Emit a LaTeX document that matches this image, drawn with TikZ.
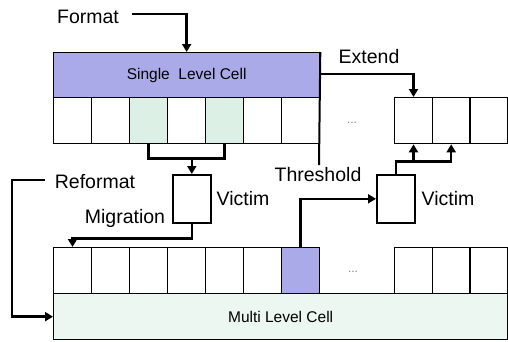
\documentclass[tikz,border=0pt]{standalone}
\usepackage{fontspec}
\setmainfont{Liberation Sans}
\usepackage{tikz}
\usetikzlibrary{arrows.meta}

\definecolor{slcpurple}{RGB}{170,170,232}
\definecolor{slcgreen}{RGB}{221,240,230}
\definecolor{mlcgreen}{RGB}{237,247,241}

\tikzset{
  cell/.style={draw,line width=1.3pt,minimum width=37.7pt,minimum height=46pt,inner sep=0pt,anchor=north west},
  vbox/.style={draw,line width=1.6pt,fill=white,minimum width=38pt,minimum height=48pt,inner sep=0pt,anchor=north west},
  lbl/.style={font=\fontsize{19.5}{22}\selectfont,inner sep=0pt},
  small/.style={font=\fontsize{15.5}{18}\selectfont},
  link/.style={line width=2.4pt},
  flow/.style={line width=2.4pt,-{Triangle[length=8pt,width=9pt]}},
}

\begin{document}
\begin{tikzpicture}[x=1pt,y=-1pt]
\useasboundingbox (0,0) rectangle (508,341);

\node[draw,line width=1.3pt,fill=slcpurple,minimum width=266pt,minimum height=45pt,inner sep=0pt,anchor=north west,small] (slc) at (53,52) {Single\ \ Level Cell};
\foreach \i/\c in {1/white,2/white,3/slcgreen,4/white,5/slcgreen,6/white,7/white}{
    \node[cell,fill=\c] (s\i) at ({53+38*(\i-1)},97) {};
}
\foreach \i in {1,2,3}{
    \node[cell] (r\i) at ({394+37.7*(\i-1)},97) {};
}
\node[inner sep=0pt,font=\fontsize{12}{12}\selectfont,text=gray] (dots1) at (352,123) {...};

\node[draw,line width=1.3pt,fill=mlcgreen,minimum width=454pt,minimum height=46pt,inner sep=0pt,anchor=north west,small] (mlc) at (53,293) {Multi Level Cell};
\foreach \i/\c in {1/white,2/white,3/white,4/white,5/white,6/white,7/slcpurple}{
    \node[cell,fill=\c] (m\i) at ({53+38*(\i-1)},247) {};
}
\foreach \i in {1,2,3}{
    \node[cell] (n\i) at ({394+37.7*(\i-1)},247) {};
}
\node[inner sep=0pt,font=\fontsize{12}{12}\selectfont,text=gray] (dots2) at (353,272) {...};

\node[vbox] (v1) at (172,174) {};
\node[vbox] (v2) at (376,174) {};

\node[lbl] (fmt) at (88,17) {Format};
\node[lbl] (ext) at (369,57) {Extend};
\node[lbl] (thr) at (318,175) {Threshold};
\node[lbl] (vic1) at (243,199) {Victim};
\node[lbl] (vic2) at (448,199) {Victim};
\node[lbl] (ref) at (95,182) {Reformat};
\node[lbl] (mig) at (125,218) {Migration};
\coordinate (thrend) at (319,165);

\draw[flow] ([xshift=13pt,yshift=3pt]fmt.east) -| (slc.north);
\draw[line width=2pt] (slc.north east) -- (thrend);
\draw[flow] ([yshift=-22pt]slc.north east) -| (r1.north);

\draw[link] (s3.south) -- ++(0,14) -| (s5.south);
\draw[flow] ([yshift=-14pt]s3.south -| v1.north) -- (v1.north);
\draw[flow] (v1.south) -- ++(0,15) -| (m1.north);

\draw[flow] ([xshift=-10pt,yshift=2pt]ref.west) -- ++(-33,0) |- (mlc.west);

\draw[flow] (m7.north) |- (v2.west);
\draw[flow] (v2.north) |- ([yshift=-17pt]r1.south) -- (r1.south);
\draw[flow] ([yshift=-17pt]r1.south) -| (r2.south);
\end{tikzpicture}
\end{document}
